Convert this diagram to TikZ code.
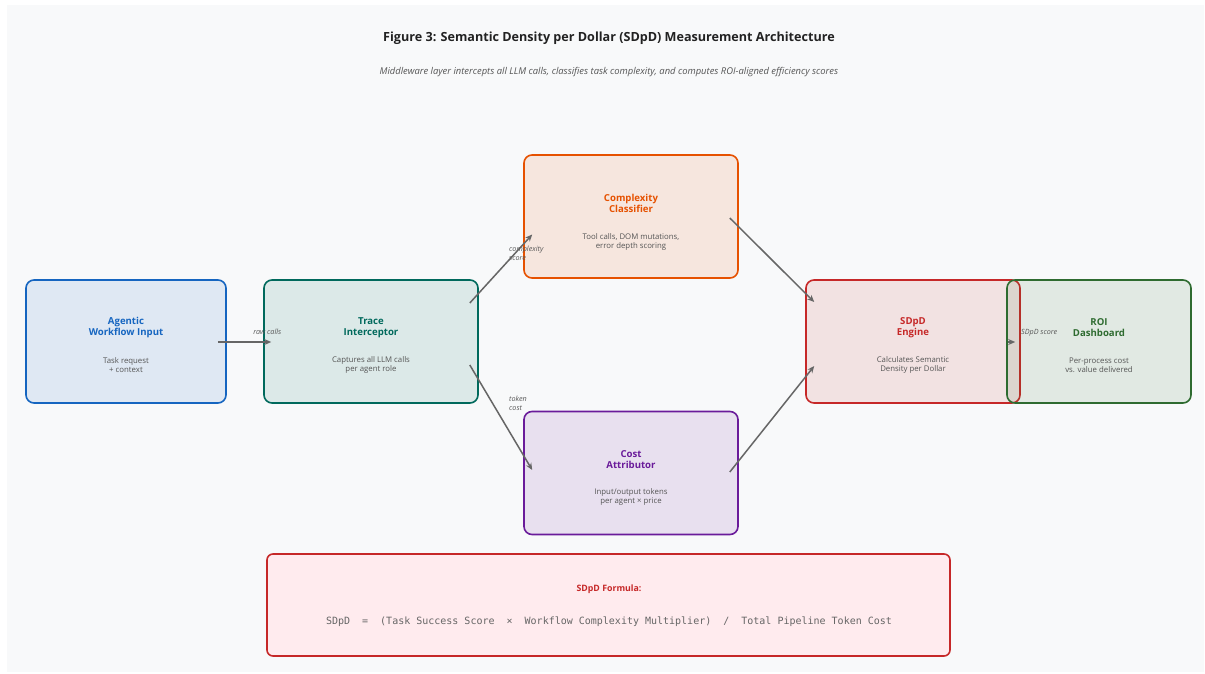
\documentclass[tikz,border=0pt]{standalone}
\usepackage{fontspec}
\setmainfont{Open Sans}
\newfontfamily\monofont{DejaVu Sans Mono}
\usetikzlibrary{arrows.meta,calc}
\definecolor{bgpanel}{HTML}{F8F9FA}
\definecolor{cblue}{HTML}{1565C0}
\definecolor{cteal}{HTML}{00695C}
\definecolor{corange}{HTML}{E65100}
\definecolor{cpurple}{HTML}{6A1B9A}
\definecolor{cred}{HTML}{C62828}
\definecolor{cgreen}{HTML}{2E6B30}
\definecolor{ctitle}{HTML}{222222}
\definecolor{csub}{HTML}{555555}
\definecolor{carrow}{HTML}{666666}
\definecolor{cformfill}{HTML}{FFEBEE}
\tikzset{
  x=1pt,y=-1pt,
  procbox/.style={draw=#1, fill=#1, fill opacity=0.11, text opacity=1, line width=1.6pt,
    rounded corners=8pt, minimum width=214pt, minimum height=123pt, inner sep=0pt},
  boxtitle/.style={font=\fontsize{9.6}{11}\selectfont\bfseries, align=center, text=#1},
  boxdesc/.style={font=\fontsize{7.8}{9}\selectfont, align=center, text=csub},
  flow/.style={draw=carrow, line width=1.5pt, -{Stealth[length=7pt,width=6pt]}},
  flowlabel/.style={font=\fontsize{7.2}{9}\selectfont\itshape, text=carrow!85!black, inner sep=0pt},
}
\begin{document}
\begin{tikzpicture}
\useasboundingbox (0,0) rectangle (1205,673);
\fill[white] (0,0) rectangle (1205,673);
\fill[bgpanel] (7,5) rectangle (1204,672);

\node[font=\fontsize{12.6}{14}\selectfont\bfseries, text=ctitle] (title) at (609,38) {Figure 3: Semantic Density per Dollar (SDpD) Measurement Architecture};
\node[font=\fontsize{9.4}{11}\selectfont\itshape, text=csub] (subtitle) at (609,72) {Middleware layer intercepts all LLM calls, classifies task complexity, and computes ROI-aligned efficiency scores};

% boxes
\node[procbox=cblue, minimum width=200pt] (input) at (126,341.5) {};
\node[procbox=cteal] (trace) at (371,341.5) {};
\node[procbox=corange] (complex) at (631,216.5) {};
\node[procbox=cpurple] (cost) at (631,473) {};
\node[procbox=cred] (engine) at (913,341.5) {};
\node[procbox=cgreen, minimum width=184pt] (roi) at (1099,341.5) {};
\node[draw=cred, fill=cformfill, line width=1.6pt, rounded corners=6pt, minimum width=683pt, minimum height=102pt, inner sep=0pt] (formula) at (608.5,605) {};

% texts
\node[boxtitle=cblue] (inputT) at ($(input.center)+(0,-14)$) {Agentic\\Workflow Input};
\node[boxdesc] (inputD) at ($(input.center)+(0,23.5)$) {Task request\\+ context};
\node[boxtitle=cteal] (traceT) at ($(trace.center)+(0,-14)$) {Trace\\Interceptor};
\node[boxdesc] (traceD) at ($(trace.center)+(0,23.5)$) {Captures all LLM calls\\per agent role};
\node[boxtitle=corange] (complexT) at ($(complex.center)+(0,-13.5)$) {Complexity\\Classifier};
\node[boxdesc] (complexD) at ($(complex.center)+(0,25)$) {Tool calls, DOM mutations,\\error depth scoring};
\node[boxtitle=cpurple] (costT) at ($(cost.center)+(0,-13.5)$) {Cost\\Attributor};
\node[boxdesc] (costD) at ($(cost.center)+(0,24)$) {Input/output tokens\\per agent × price};
\node[boxtitle=cred] (engineT) at ($(engine.center)+(0,-14)$) {SDpD\\Engine};
\node[boxdesc] (engineD) at ($(engine.center)+(0,23.5)$) {Calculates Semantic\\Density per Dollar};
\node[boxtitle=cgreen] (roiT) at ($(roi.center)+(0,-14)$) {ROI\\Dashboard};
\node[boxdesc] (roiD) at ($(roi.center)+(0,23.5)$) {Per-process cost\\vs. value delivered};
\node[font=\fontsize{8.8}{10}\selectfont\bfseries, text=cred] (formT) at (609,589) {SDpD Formula:};
\node[font=\fontsize{10}{12}\selectfont\monofont, text=carrow] (formE) at (609,622) {SDpD\ \ =\ \ (Task Success Score\ \ ×\ \ Workflow Complexity Multiplier)\ \ /\ \ Total Pipeline Token Cost};

% connector end points
\coordinate (inputOut) at ($(input.east)+(-9,0.5)$);
\coordinate (traceIn) at ($(trace.west)+(8,0.5)$);
\coordinate (traceUp) at ($(trace.east)+(-9,-38.5)$);
\coordinate (traceDn) at ($(trace.east)+(-9,23.5)$);
\coordinate (complexIn) at ($(complex.west)+(9,18)$);
\coordinate (complexOut) at ($(complex.east)+(-9,1.5)$);
\coordinate (costIn) at ($(cost.west)+(9,-3)$);
\coordinate (costOut) at ($(cost.east)+(-9,-1)$);
\coordinate (engineUp) at ($(engine.west)+(9,-39.5)$);
\coordinate (engineDn) at ($(engine.west)+(9,24.5)$);
\coordinate (engineOut) at ($(engine.east)+(-13,0.5)$);
\coordinate (roiIn) at ($(roi.west)+(9,0.5)$);

% connectors
\draw[flow] (inputOut) -- (traceIn);
\draw[flow] (traceUp) -- (complexIn);
\draw[flow] (traceDn) -- (costIn);
\draw[flow] (complexOut) -- (engineUp);
\draw[flow] (costOut) -- (engineDn);
\draw[flow] (engineOut) -- (roiIn);

% connector labels
\node[flowlabel, anchor=base east] (l1) at (281.5,334.5) {raw calls};
\node[flowlabel, anchor=north west, align=left] (l2) at (509,246) {complexity\\score};
\node[flowlabel, anchor=north west, align=left] (l3) at (509,396) {token\\cost};
\node[flowlabel, anchor=base west] (l4) at (1021,334.5) {SDpD score};
\end{tikzpicture}
\end{document}
